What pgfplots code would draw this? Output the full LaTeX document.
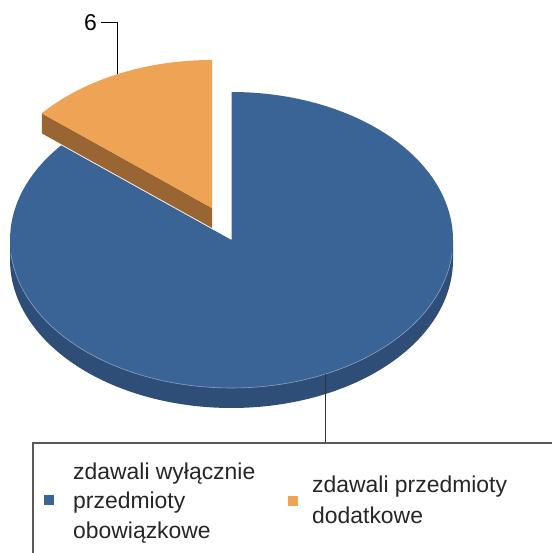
\documentclass[border=0pt]{standalone}
\usepackage{pgfplots}
\pgfplotsset{compat=1.18}
\usepackage{fontspec}
\setmainfont{Liberation Sans}
\definecolor{blueTop}{HTML}{3B6496}
\definecolor{blueSide}{HTML}{2E4E78}
\definecolor{orTop}{HTML}{EFA354}
\definecolor{orSide}{HTML}{996633}
\newcommand\lf{\fontsize{23}{28}\selectfont}
\begin{document}
\begin{tikzpicture}
% data: zdawali wylacznie przedmioty obowiazkowe, zdawali przedmioty dodatkowe
\def\vA{37}\def\vB{6}
\pgfmathsetmacro\tot{\vA+\vB}
\pgfmathsetmacro\aB{90+360*\vB/\tot}
\def\cx{231.5}\def\cy{-240}\def\rx{221.5}\def\ry{148}\def\dep{20}
\def\ox{212}\def\oy{-208}
\pgfmathsetmacro\xR{\cx+\rx}\pgfmathsetmacro\xL{\cx-\rx}
\pgfmathsetmacro\kx{\ox+\rx*cos(\aB)}\pgfmathsetmacro\ky{\oy+\ry*sin(\aB)}
\pgfmathsetmacro\kyd{\ky-\dep}\pgfmathsetmacro\oyd{\oy-\dep}
\pgfmathsetmacro\mO{(90+\aB)/2}
\pgfmathsetmacro\lox{\ox+\rx*cos(\mO)}\pgfmathsetmacro\loy{\oy+\ry*sin(\mO)}
\pgfmathsetmacro\mB{(\aB+450)/2}
\pgfmathsetmacro\lbx{\cx+\rx*cos(\mB)}\pgfmathsetmacro\lby{\cy+\ry*sin(\mB)}
\begin{axis}[scale only axis, width=552bp, height=553bp,
  xmin=0, xmax=552, ymin=-553, ymax=0, hide axis, clip=true]
% blue side wall
\addplot[fill=blueSide, draw=none, domain=180:360, samples=120, variable=\t]
  ({\cx+\rx*cos(\t)}, {\cy-\dep+\ry*sin(\t)}) -- (axis cs:\xR,\cy) -- (axis cs:\xL,\cy) -- cycle;
% blue top face
\addplot[fill=blueTop, draw=none, domain=\aB:450, samples=240, variable=\t]
  ({\cx+\rx*cos(\t)}, {\cy+\ry*sin(\t)}) -- (axis cs:\cx,\cy) -- cycle;
\addplot[draw=blueTop!60!white, line width=0.6bp, domain=185:355, samples=120, variable=\t]
  ({\cx+\rx*cos(\t)}, {\cy+\ry*sin(\t)});
% orange side wall
\addplot[fill=orSide, draw=none] coordinates {(\ox,\oy) (\kx,\ky) (\kx,\kyd) (\ox,\oyd)} -- cycle;
% orange top face
\addplot[fill=orTop, draw=none, domain=90:\aB, samples=80, variable=\t]
  ({\ox+\rx*cos(\t)}, {\oy+\ry*sin(\t)}) -- (axis cs:\ox,\oy) -- cycle;
% leader lines
\addplot[black, line width=1bp] coordinates {(\lox,\loy) (\lox,-23) (101,-23)};
\node[anchor=east, font=\lf, inner sep=0pt] at (axis cs:97,-23) {\vB};
\addplot[black!80, line width=1.2bp] coordinates {(\lbx,\lby) (\lbx,-445)};
% legend
\draw[draw=black!65, line width=2bp, fill=white] (axis cs:33,-443) rectangle (axis cs:620,-640);
\fill[blueTop] (axis cs:44,-495) rectangle (axis cs:54,-505);
\fill[orTop] (axis cs:288,-496) rectangle (axis cs:298,-506);
\node[anchor=base west, font=\lf, inner sep=0pt, text=black!85] at (axis cs:73,-480) {zdawali wyłącznie};
\node[anchor=base west, font=\lf, inner sep=0pt, text=black!85] at (axis cs:73,-509) {przedmioty};
\node[anchor=base west, font=\lf, inner sep=0pt, text=black!85] at (axis cs:73,-538) {obowiązkowe};
\node[anchor=base west, font=\lf, inner sep=0pt, text=black!85] at (axis cs:312,-493) {zdawali przedmioty};
\node[anchor=base west, font=\lf, inner sep=0pt, text=black!85] at (axis cs:312,-523) {dodatkowe};
\coordinate (SW) at (axis cs:0,-553);
\coordinate (NE) at (axis cs:552,0);
\end{axis}
\pgfresetboundingbox
\useasboundingbox (SW) rectangle (NE);
\end{tikzpicture}
\end{document}
